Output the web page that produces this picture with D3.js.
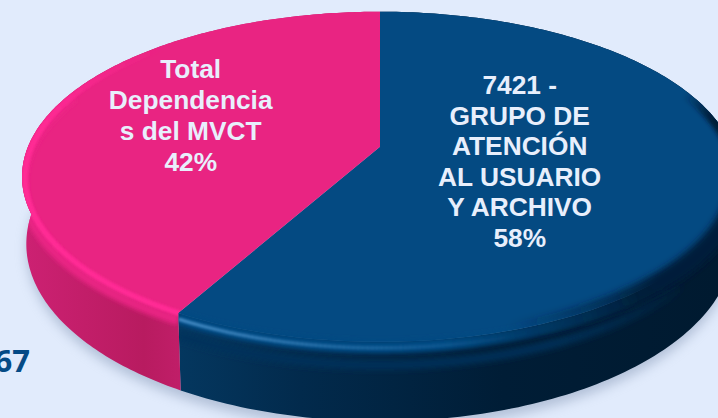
<!DOCTYPE html>
<html><head><meta charset="utf-8">
<script src="https://cdn.jsdelivr.net/npm/d3@7"></script>
<style>html,body{margin:0;padding:0;background:#e1ebfc;overflow:hidden}svg{display:block}</style>
</head><body><svg id="c" width="718" height="418"></svg>
<script>
const categories = ["7421 - GRUPO DE ATENCIÓN AL USUARIO Y ARCHIVO", "Total Dependencias del MVCT"];
const values = [58, 42];
const sliceLines = [
  ["7421 -", "GRUPO DE", "ATENCIÓN", "AL USUARIO", "Y ARCHIVO", "58%"],
  ["Total", "Dependencia", "s del MVCT", "42%"]
];
const faceColors = ["#044a82", "#e92482"];
const strayLabel = "67";

const W = 718, H = 418;
const cx = 380, cy = 146.7, rxU = 352, ryU = 159.6, persp = 0.182, depth = 65;
const svg = d3.select("#c");
const defs = svg.append("defs");

// perspective projection of a circular disc, angle 0 at top, clockwise
const proj = (t, r = 1, dz = 0) => {
  const w = 1 + persp * Math.cos(t);
  const rr = r * (1 - 0.012 * dz / depth);
  return [cx + rxU * rr * Math.sin(t) / w, cy - ryU * r * Math.cos(t) / w + dz / w];
};
const arcs = d3.pie().sort(null).value(d => d)(values);
const line = d3.line();
const samples = (a, b, r, dz) => d3.range(0, 201).map(i => proj(a + (b - a) * i / 200, r, dz));

const filt = (id, s) => defs.append("filter").attr("id", id)
  .attr("x", "-20%").attr("y", "-20%").attr("width", "140%").attr("height", "140%")
  .append("feGaussianBlur").attr("stdDeviation", s);
filt("b7", 6); filt("b3", 3.2); filt("b2", 2); filt("b1", 1.2);

const grad = (id, stops) => {
  const g = defs.append("linearGradient").attr("id", id).attr("gradientUnits", "userSpaceOnUse")
    .attr("x1", 0).attr("x2", W).attr("y1", 0).attr("y2", 0);
  stops.forEach(([o, c]) => g.append("stop").attr("offset", o).attr("stop-color", c));
};
grad("side0", [[0.25, "#04375f"], [0.42, "#022a4c"], [0.7, "#001d36"], [1, "#001a30"]]);
grad("side1", [[0.03, "#cd2173"], [0.2, "#b81b60"], [0.25, "#c01e68"]]);

svg.append("rect").attr("width", W).attr("height", H).attr("fill", "#e1ebfc");

// ground shadow
svg.append("path").attr("d", line(samples(0, 2 * Math.PI, 1.0, depth + 6)) + "Z")
  .attr("fill", "#8496b4").attr("opacity", 0.5).attr("filter", "url(#b7)");

// side wall
const band = d => line(samples(d.startAngle, d.endAngle, 1, 0).concat(samples(d.startAngle, d.endAngle, 1, depth).reverse())) + "Z";
svg.selectAll("path.side").data(arcs).join("path").attr("class", "side")
  .attr("d", band).attr("fill", (d, i) => `url(#side${i})`);

// top face
const wedge = d => line([[cx, cy]].concat(samples(d.startAngle, d.endAngle, 1, 0))) + "Z";
svg.selectAll("path.top").data(arcs).join("path").attr("class", "top")
  .attr("d", wedge).attr("fill", (d, i) => faceColors[i]);

// bevel along the rim: soft strokes clipped to each slice plus its wall
arcs.forEach((d, i) => {
  const c = defs.append("clipPath").attr("id", "sl" + i);
  c.append("path").attr("d", wedge(d));
  c.append("path").attr("d", band(d));
});
const rim = (i, a, b, r, dz, width, color, opFn, f) => {
  const n = 80, g = svg.append("g").attr("clip-path", `url(#sl${i})`).append("g").attr("filter", `url(#${f})`);
  d3.range(n).forEach(k => {
    const s = a + (b - a) * k / n, e = a + (b - a) * (k + 1.15) / n;
    const o = opFn((k + 0.5) / n);
    if (o <= 0.01) return;
    g.append("path").attr("d", line(d3.range(0, 5).map(j => proj(s + (e - s) * j / 4, r, dz))))
      .attr("fill", "none").attr("stroke", color).attr("stroke-width", width).attr("stroke-opacity", o);
  });
};
const [a0, a1] = [arcs[0], arcs[1]];
// navy: dark shading on the right, thin at the top and wide at the front
rim(0, Math.PI * 0.38, Math.PI * 0.62, 1, 0, 14, "#001c36", u => Math.min(1, u * 4), "b2");
rim(0, Math.PI * 0.55, Math.PI * 0.9, 1, 2, 20, "#001f3b", u => Math.min(1, u * 6) * (u > 0.6 ? (1 - u) / 0.4 : 1), "b3");
// navy: the face colour rolls over the front edge, then blends into the wall
rim(0, Math.PI * 0.78, a0.endAngle, 1, 4, 13, "#044a82", u => Math.min(1, u * 2.2), "b2");
rim(0, Math.PI * 0.72, a0.endAngle, 1, 19, 8, "#03335c", u => Math.min(1, u * 3), "b3");
// navy: light highlight fading toward the right
rim(0, a0.endAngle, Math.PI * 0.88, 1, 5, 3.6, "#3f86bf", u => Math.pow(1 - u, 1.3), "b1");
// pink: blend from the bright rim to the wall
rim(1, a1.startAngle, Math.PI * 1.62, 1, 6, 10, "#ee2587", u => 0.85, "b2");
rim(1, a1.startAngle, Math.PI * 1.75, 0.992, 1.5, 6, "#ff2a94", u => u < 0.65 ? 1 : (1 - u) / 0.35, "b1");

// labels
const labelAnchors = [[519.7, 94, 30.6], [190.7, 78, 31]];
sliceLines.forEach((ls, i) => {
  svg.append("g").selectAll("text").data(ls).join("text")
    .attr("x", labelAnchors[i][0]).attr("y", (d, k) => labelAnchors[i][1] + k * labelAnchors[i][2])
    .attr("text-anchor", "middle").attr("fill", "#e8effc")
    .attr("font-family", "'Liberation Sans', Arial, sans-serif").attr("font-weight", 700)
    .attr("font-size", 26.3).text(d => d);
});

svg.append("text").attr("x", 30).attr("y", 372).attr("text-anchor", "end")
  .attr("fill", "#054a85").attr("font-family", "'Open Sans', sans-serif")
  .attr("font-weight", 700).attr("font-size", 31).text(strayLabel);
</script></body></html>
